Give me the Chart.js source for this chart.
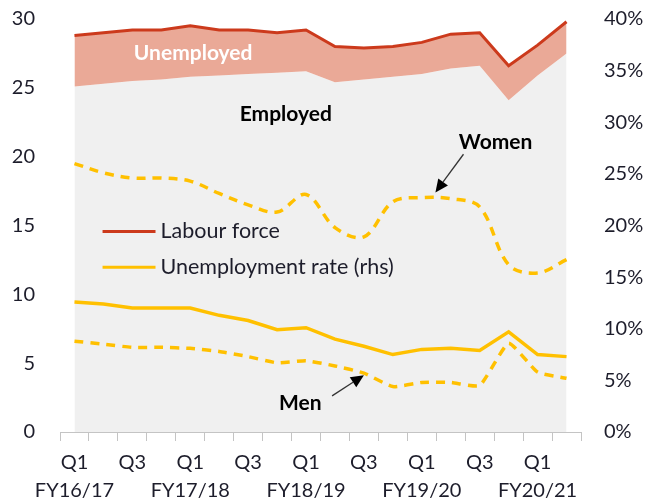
<!DOCTYPE html>
<html>
<head>
<meta charset="utf-8">
<script src="https://cdn.jsdelivr.net/npm/chart.js@4/dist/chart.umd.min.js"></script>
<style>
  html, body { margin: 0; padding: 0; background: #ffffff; }
  canvas { display: block; }
</style>
</head>
<body>
<canvas id="chart" width="647" height="502"></canvas>
<script>
// Quarterly labour market figures (millions on the left axis, rates in % on the right)
const quarters = ['Q1','Q2','Q3','Q4','Q1','Q2','Q3','Q4','Q1','Q2','Q3','Q4','Q1','Q2','Q3','Q4','Q1','Q2'];
const fiscalYears = ['FY16/17','FY16/17','FY16/17','FY16/17','FY17/18','FY17/18','FY17/18','FY17/18',
                     'FY18/19','FY18/19','FY18/19','FY18/19','FY19/20','FY19/20','FY19/20','FY19/20',
                     'FY20/21','FY20/21'];

const employed    = [25.1, 25.3, 25.5, 25.6, 25.8, 25.9, 26.0, 26.1, 26.2, 25.4, 25.6, 25.8, 26.0, 26.4, 26.6, 24.1, 25.9, 27.5];
const labourForce = [28.8, 29.0, 29.2, 29.2, 29.5, 29.2, 29.2, 29.0, 29.2, 28.0, 27.9, 28.0, 28.3, 28.9, 29.0, 26.6, 28.1, 29.8];

const rateTotal = [12.6, 12.4, 12.0, 12.0, 12.0, 11.3, 10.8, 9.9, 10.1, 9.0, 8.3, 7.5, 8.0, 8.1, 7.9, 9.7, 7.5, 7.3];
const rateWomen = [26.0, 25.1, 24.6, 24.6, 24.3, 23.1, 22.0, 21.3, 23.0, 19.8, 18.9, 22.3, 22.7, 22.6, 21.8, 16.2, 15.4, 16.7];
const rateMen   = [8.8, 8.5, 8.2, 8.2, 8.1, 7.8, 7.3, 6.7, 6.9, 6.4, 5.7, 4.4, 4.8, 4.8, 4.5, 8.6, 5.8, 5.2];

const leftTicks  = [0, 5, 10, 15, 20, 25, 30];
const rightTicks = [0, 5, 10, 15, 20, 25, 30, 35, 40];

const FONT = "Lato, 'Open Sans', sans-serif";
const TEXT = '#1d1d2b';
const GOLD = '#FFC000';
const RED  = '#CC3A1C';

const categories = quarters.map((q, i) => q + ' ' + fiscalYears[i]);

function arrow(ctx, x1, y1, x2, y2) {
  const ang = Math.atan2(y2 - y1, x2 - x1);
  const head = 13, wing = 6;
  const bx = x2 - head * Math.cos(ang), by = y2 - head * Math.sin(ang);
  ctx.save();
  ctx.strokeStyle = '#333';
  ctx.lineWidth = 1.3;
  ctx.beginPath();
  ctx.moveTo(x1, y1);
  ctx.lineTo(bx, by);
  ctx.stroke();
  ctx.fillStyle = '#000';
  ctx.beginPath();
  ctx.moveTo(x2, y2);
  ctx.lineTo(bx + wing * Math.sin(ang), by - wing * Math.cos(ang));
  ctx.lineTo(bx - wing * Math.sin(ang), by + wing * Math.cos(ang));
  ctx.closePath();
  ctx.fill();
  ctx.restore();
}

// Legend and annotation labels placed in data coordinates
const overlay = {
  id: 'overlay',
  afterDatasetsDraw(chart) {
    const { ctx, scales } = chart;
    const X = v => scales.x.getPixelForValue(v);
    const L = v => scales.y.getPixelForValue(v);
    const R = v => scales.y1.getPixelForValue(v);

    ctx.save();
    ctx.textBaseline = 'middle';

    // legend
    ctx.lineWidth = 3;
    ctx.strokeStyle = RED;
    ctx.beginPath(); ctx.moveTo(X(0.97), L(14.56)); ctx.lineTo(X(2.8), L(14.56)); ctx.stroke();
    ctx.strokeStyle = GOLD;
    ctx.beginPath(); ctx.moveTo(X(0.97), L(11.96)); ctx.lineTo(X(2.8), L(11.96)); ctx.stroke();
    ctx.fillStyle = TEXT;
    ctx.textAlign = 'left';
    ctx.font = '21.5px ' + FONT;
    ctx.fillText('Labour force', X(2.97), L(14.56));
    ctx.fillText('Unemployment rate (rhs)', X(2.97), L(11.96));

    // annotations
    ctx.textAlign = 'center';
    ctx.font = 'bold 21px ' + FONT;
    ctx.fillStyle = '#ffffff';
    ctx.fillText('Unemployed', X(4.1), L(27.5));
    ctx.fillStyle = '#000000';
    ctx.fillText('Employed', X(7.3), L(23.1));
    ctx.fillText('Women', X(14.55), R(28.1));
    ctx.fillText('Men', X(7.8), R(2.8));

    arrow(ctx, X(13.44), R(26.9), X(12.47), R(23.2));
    arrow(ctx, X(8.9), R(3.5), X(10.0), R(5.5));
    ctx.restore();
  }
};

new Chart(document.getElementById('chart'), {
  type: 'line',
  data: {
    labels: categories,
    datasets: [
      {
        label: 'Employed',
        data: employed,
        yAxisID: 'y',
        borderWidth: 0,
        borderColor: 'rgba(0,0,0,0)',
        backgroundColor: '#F0F0F0',
        fill: 'origin',
        pointRadius: 0,
        tension: 0,
        order: 5
      },
      {
        label: 'Labour force',
        data: labourForce,
        yAxisID: 'y',
        borderWidth: 3,
        borderColor: RED,
        backgroundColor: '#EAA997',
        fill: '-1',
        pointRadius: 0,
        tension: 0,
        order: 4
      },
      {
        label: 'Unemployment rate (rhs)',
        data: rateTotal,
        yAxisID: 'y1',
        borderWidth: 3.5,
        borderColor: GOLD,
        fill: false,
        pointRadius: 0,
        tension: 0,
        order: 1
      },
      {
        label: 'Women',
        data: rateWomen,
        yAxisID: 'y1',
        borderWidth: 3.5,
        borderColor: GOLD,
        borderDash: [9, 7],
        fill: false,
        pointRadius: 0,
        tension: 0.35,
        order: 2
      },
      {
        label: 'Men',
        data: rateMen,
        yAxisID: 'y1',
        borderWidth: 3.5,
        borderColor: GOLD,
        borderDash: [9, 7],
        fill: false,
        pointRadius: 0,
        tension: 0.15,
        order: 3
      }
    ]
  },
  options: {
    responsive: false,
    animation: false,
    layout: { padding: { top: 19, left: 0, right: 0, bottom: 0 } },
    plugins: {
      legend: { display: false },
      tooltip: { enabled: false }
    },
    scales: {
      x: {
        type: 'category',
        offset: true,
        grid: {
          offset: true,
          drawOnChartArea: false,
          drawTicks: true,
          tickLength: 9,
          color: '#C4C4C4',
          lineWidth: 1
        },
        border: { display: true, color: '#C4C4C4', width: 1 },
        ticks: {
          autoSkip: false,
          maxRotation: 0,
          minRotation: 0,
          padding: 8,
          color: TEXT,
          font: { family: FONT, size: 20, lineHeight: 1.4 },
          callback: (v, i) => {
            if (quarters[i] === 'Q1') return [quarters[i], fiscalYears[i]];
            if (quarters[i] === 'Q3') return quarters[i];
            return '';
          }
        },
        afterFit: s => { s.height = 70; }
      },
      y: {
        position: 'left',
        min: leftTicks[0],
        max: leftTicks[leftTicks.length - 1],
        grid: { display: false, drawTicks: false },
        border: { display: false },
        afterBuildTicks: s => { s.ticks = leftTicks.map(v => ({ value: v })); },
        ticks: {
          padding: 25,
          color: TEXT,
          font: { family: FONT, size: 20 }
        },
        afterFit: s => { s.width = 60; s.paddingTop = 0; s.paddingBottom = 0; }
      },
      y1: {
        position: 'right',
        min: rightTicks[0],
        max: rightTicks[rightTicks.length - 1],
        grid: { display: false, drawTicks: false },
        border: { display: false },
        afterBuildTicks: s => { s.ticks = rightTicks.map(v => ({ value: v })); },
        ticks: {
          padding: 23,
          color: TEXT,
          font: { family: FONT, size: 20 },
          callback: v => v + '%'
        },
        afterFit: s => { s.width = 66; s.paddingTop = 0; s.paddingBottom = 0; }
      }
    }
  },
  plugins: [overlay]
});
</script>
</body>
</html>
